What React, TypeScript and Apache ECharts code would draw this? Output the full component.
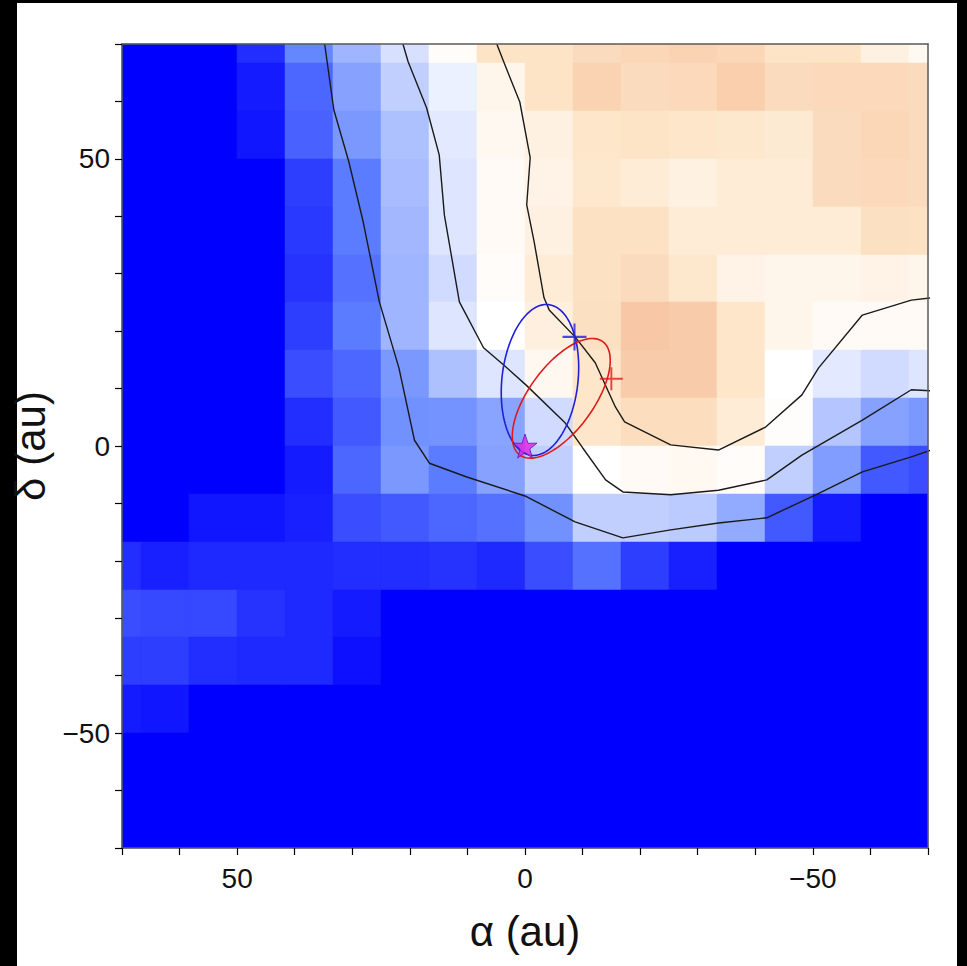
import React, { useEffect, useRef } from 'react';
import * as echarts from 'echarts';

// ---- data ----
const CELL_SIZE = 8.333;
const ALPHA_CENTERS = [70.83, 62.5, 54.17, 45.83, 37.5, 29.17, 20.83, 12.5, 4.17, -4.17, -12.5, -20.83, -29.17, -37.5, -45.83, -54.17, -62.5, -70.83];
const DELTA_CENTERS = [70.83, 62.5, 54.17, 45.83, 37.5, 29.17, 20.83, 12.5, 4.17, -4.17, -12.5, -20.83, -29.17, -37.5, -45.83, -54.17, -62.5, -70.83];

// rows top (delta high) -> bottom, columns left (alpha high) -> right
const GRID_VALUES = [
  [-1, -1, -1, -0.83, -0.5, -0.31, -0.13, 0.05, 0.52, 0.52, 0.64, 0.7, 0.76, 0.7, 0.52, 0.52, 0.27, 0.12],
  [-1, -1, -1, -0.9, -0.62, -0.39, -0.2, -0.06, 0.18, 0.52, 0.76, 0.64, 0.68, 0.82, 0.64, 0.68, 0.68, 0.64],
  [-1, -1, -1, -0.92, -0.64, -0.43, -0.26, -0.09, 0.13, 0.27, 0.48, 0.52, 0.48, 0.45, 0.41, 0.64, 0.7, 0.64],
  [-1, -1, -1, -1, -0.77, -0.54, -0.28, -0.11, 0.09, 0.23, 0.45, 0.36, 0.27, 0.36, 0.36, 0.64, 0.68, 0.64],
  [-1, -1, -1, -1, -0.79, -0.54, -0.3, -0.11, 0.09, 0.27, 0.56, 0.56, 0.36, 0.36, 0.36, 0.36, 0.58, 0.56],
  [-1, -1, -1, -1, -0.81, -0.58, -0.31, -0.15, 0.05, 0.36, 0.56, 0.64, 0.45, 0.23, 0.18, 0.18, 0.23, 0.18],
  [-1, -1, -1, -1, -0.77, -0.54, -0.31, -0.11, 0.0, 0.3, 0.58, 0.94, 0.88, 0.48, 0.18, 0.09, 0.09, 0.09],
  [-1, -1, -1, -1, -0.71, -0.62, -0.43, -0.26, -0.11, 0.13, 0.48, 0.88, 0.88, 0.48, 0.0, -0.09, -0.15, -0.11],
  [-1, -1, -1, -1, -0.83, -0.67, -0.46, -0.45, -0.38, -0.15, 0.48, 0.62, 0.62, 0.36, 0.03, -0.24, -0.39, -0.43],
  [-1, -1, -1, -1, -0.9, -0.62, -0.43, -0.54, -0.39, -0.2, 0.0, 0.09, 0.12, 0.05, -0.2, -0.41, -0.67, -0.71],
  [-1, -1, -0.92, -0.92, -0.88, -0.71, -0.67, -0.62, -0.58, -0.46, -0.2, -0.2, -0.22, -0.35, -0.67, -0.9, -1, -1],
  [-0.83, -0.88, -0.85, -0.85, -0.85, -0.83, -0.83, -0.81, -0.85, -0.71, -0.58, -0.77, -0.88, -1, -1, -1, -1, -1],
  [-0.71, -0.73, -0.73, -0.81, -0.85, -0.9, -1, -1, -1, -1, -1, -1, -1, -1, -1, -1, -1, -1],
  [-0.77, -0.77, -0.83, -0.85, -0.85, -0.94, -1, -1, -1, -1, -1, -1, -1, -1, -1, -1, -1, -1],
  [-0.9, -0.92, -1, -1, -1, -1, -1, -1, -1, -1, -1, -1, -1, -1, -1, -1, -1, -1],
  [-1, -1, -1, -1, -1, -1, -1, -1, -1, -1, -1, -1, -1, -1, -1, -1, -1, -1],
  [-1, -1, -1, -1, -1, -1, -1, -1, -1, -1, -1, -1, -1, -1, -1, -1, -1, -1],
  [-1, -1, -1, -1, -1, -1, -1, -1, -1, -1, -1, -1, -1, -1, -1, -1, -1, -1],
];

const CONTOUR_OUTER = [
  [34.8, 70], [33.2, 58.5], [30.6, 49.5], [28.1, 39.0], [25.3, 25.1], [21.9, 13.6], [19.2, 1.0],
  [16.6, -3.0], [10.1, -5.4], [0, -8.7], [-8.7, -13.2], [-17.0, -16.0], [-25.3, -14.6],
  [-33.6, -13.4], [-42.0, -12.5], [-50.5, -8.5], [-58.6, -4.5], [-67.1, -1.9], [-70.6, -0.7],
];
const CONTOUR_MIDDLE = [
  [21.2, 70], [20.3, 66.9], [17.1, 58.9], [14.9, 50.7], [14.0, 40.2], [11.4, 25.1], [7.2, 17.1],
  [3.7, 14.1], [-0.2, 10.6], [-7.0, 4.0], [-10.0, -0.3], [-14.0, -5.9], [-17.0, -8.0],
  [-25.3, -8.5], [-33.6, -7.7], [-42.0, -5.9], [-48.1, -1.6], [-58.6, 4.5], [-67.1, 9.8], [-70.6, 9.6],
];
const CONTOUR_INNER = [
  [4.9, 70], [3.7, 66.9], [0.9, 59.9], [-0.9, 50.2], [-0.3, 42.0], [-1.6, 35.5], [-3.3, 25.8],
  [-4.2, 23.7], [-8.7, 19.0], [-12.2, 14.5], [-15.7, 6.8], [-17.3, 4.2], [-25.3, 0.2],
  [-33.6, -0.7], [-41.8, 3.3], [-48.1, 8.9], [-51.0, 13.6], [-58.6, 22.8], [-67.1, 25.4], [-70.6, 25.8],
];

// ellipse definitions: center, semi-axes, major-axis direction (alpha, delta)
const BLUE_ELLIPSE = { center: [-2.6, 11.5], semiMajor: 13.2, semiMinor: 6.6, dir: [-0.113, 0.994] };
const RED_ELLIPSE = { center: [-6.3, 8.3], semiMajor: 12.2, semiMinor: 5.6, dir: [-0.59, 0.81] };

const BLUE_PLUS = [[-8.6, 19.0]];
const RED_PLUS = [[-15.0, 11.7]];
const STAR_POINT = [[0, 0]];

const TICK_VALUES = [50, 0, -50];
const TICK_TEXTS = ['50', '0', '\u221250'];

const FONT = '"Liberation Sans", Arial, Helvetica, sans-serif';

function ellipsePoints(e: { center: number[]; semiMajor: number; semiMinor: number; dir: number[] }) {
  const pts: number[][] = [];
  const [ux, uy] = e.dir;
  const vx = uy, vy = -ux;
  for (let k = 0; k <= 120; k++) {
    const t = (k / 120) * Math.PI * 2;
    const c = Math.cos(t), s = Math.sin(t);
    pts.push([
      e.center[0] + e.semiMajor * c * ux + e.semiMinor * s * vx,
      e.center[1] + e.semiMajor * c * uy + e.semiMinor * s * vy,
    ]);
  }
  return pts;
}

function tickLabel(v: number) {
  const i = TICK_VALUES.indexOf(v);
  return i >= 0 ? TICK_TEXTS[i] : '';
}

const PLUS_PATH = 'path://M11,0H13V11H24V13H13V24H11V13H0V11H11Z';
const STAR_PATH = 'path://M50,0 L61.8,35.1 L97.6,34.5 L69,56.5 L79.4,90.5 L50,70 L20.6,90.5 L31,56.5 L2.4,34.5 L38.2,35.1 Z';

export default function App() {
  const ref = useRef<HTMLDivElement>(null);
  useEffect(() => {
    if (!ref.current) return;
    const chart = echarts.init(ref.current, undefined, { renderer: 'svg' });

    const cells: number[][] = [];
    GRID_VALUES.forEach((row, r) => {
      row.forEach((v, c) => {
        cells.push([ALPHA_CENTERS[c], DELTA_CENTERS[r], v]);
      });
    });

    const lineSeries = (data: number[][], color: string, width: number, z: number) => ({
      type: 'line',
      data,
      showSymbol: false,
      symbol: 'none',
      smooth: false,
      clip: true,
      lineStyle: { color, width },
      z,
      silent: true,
    });

    const axisCommon = {
      type: 'value',
      min: -70,
      max: 70,
      interval: 10,
      splitLine: { show: false },
      axisLine: { show: true, onZero: false, lineStyle: { color: '#5a5a5a', width: 1.5 } },
      axisTick: { show: true, inside: false, length: 7, lineStyle: { color: '#000', width: 1.2 } },
      z: 10,
    };

    chart.setOption({
      animation: false,
      backgroundColor: '#000000',
      graphic: [
        { type: 'rect', shape: { x: 17, y: 3, width: 940, height: 963 }, style: { fill: '#ffffff' }, z: -10 },
      ],
      grid: { left: 122, top: 44, right: 39, bottom: 118, containLabel: false },
      visualMap: {
        type: 'continuous',
        show: false,
        min: -1,
        max: 1,
        dimension: 2,
        seriesIndex: 0,
        inRange: { color: ['#0000ff', '#6487ff', '#ffffff', '#fde5c8', '#f7c3a0'] },
      },
      xAxis: [
        {
          ...axisCommon,
          position: 'bottom',
          inverse: true,
          name: '\u03b1 (au)',
          nameLocation: 'middle',
          nameGap: 62,
          nameTextStyle: { fontSize: 42, fontFamily: FONT, color: '#111' },
          axisLabel: { formatter: tickLabel, fontSize: 28, fontFamily: FONT, color: '#111', margin: 16 },
        },
        {
          ...axisCommon,
          position: 'top',
          inverse: true,
          axisTick: { show: false },
          axisLabel: { show: false },
        },
      ],
      yAxis: [
        {
          ...axisCommon,
          position: 'left',
          name: '\u03b4 (au)',
          nameLocation: 'middle',
          nameRotate: 90,
          nameGap: 52,
          nameTextStyle: { fontSize: 42, fontFamily: FONT, color: '#111' },
          axisLabel: { formatter: tickLabel, fontSize: 28, fontFamily: FONT, color: '#111', margin: 12 },
        },
        {
          ...axisCommon,
          position: 'right',
          axisTick: { show: false },
          axisLabel: { show: false },
        },
      ],
      series: [
        {
          type: 'custom',
          data: cells,
          encode: { x: 0, y: 1 },
          z: 1,
          silent: true,
          renderItem: (params: any, api: any) => {
            const a = api.value(0);
            const d = api.value(1);
            const p1 = api.coord([a + CELL_SIZE / 2, d + CELL_SIZE / 2]);
            const p2 = api.coord([a - CELL_SIZE / 2, d - CELL_SIZE / 2]);
            const cs = params.coordSys;
            const x0 = Math.max(Math.round(Math.min(p1[0], p2[0])), Math.round(cs.x));
            const x1 = Math.min(Math.round(Math.max(p1[0], p2[0])), Math.round(cs.x + cs.width));
            const y0 = Math.max(Math.round(Math.min(p1[1], p2[1])), Math.round(cs.y));
            const y1 = Math.min(Math.round(Math.max(p1[1], p2[1])), Math.round(cs.y + cs.height));
            if (x1 <= x0 || y1 <= y0) return null;
            return {
              type: 'rect',
              shape: { x: x0, y: y0, width: x1 - x0, height: y1 - y0 },
              style: { fill: api.visual('color'), stroke: api.visual('color'), lineWidth: 0.5 },
            };
          },
        },
        lineSeries(CONTOUR_OUTER, '#1a1a1a', 1.4, 3),
        lineSeries(CONTOUR_MIDDLE, '#1a1a1a', 1.4, 3),
        lineSeries(CONTOUR_INNER, '#1a1a1a', 1.4, 3),
        lineSeries(ellipsePoints(BLUE_ELLIPSE), '#1f1fd6', 1.6, 4),
        lineSeries(ellipsePoints(RED_ELLIPSE), '#e01a1a', 1.6, 4),
        {
          type: 'scatter',
          data: BLUE_PLUS,
          symbol: PLUS_PATH,
          symbolSize: [24, 27],
          itemStyle: { color: '#1f1fd6' },
          z: 6,
          silent: true,
        },
        {
          type: 'scatter',
          data: RED_PLUS,
          symbol: PLUS_PATH,
          symbolSize: [23, 23],
          itemStyle: { color: '#e01a1a' },
          z: 6,
          silent: true,
        },
        {
          type: 'scatter',
          data: STAR_POINT,
          symbol: STAR_PATH,
          symbolSize: 24,
          itemStyle: { color: '#e21ee2', borderColor: '#5a1ab4', borderWidth: 1 },
          z: 7,
          silent: true,
        },
      ],
    });
    return () => chart.dispose();
  }, []);
  return (
    <div
      ref={ref}
      style={{ position: 'fixed', left: 0, top: 0, width: 967, height: 966 }}
    />
  );
}
